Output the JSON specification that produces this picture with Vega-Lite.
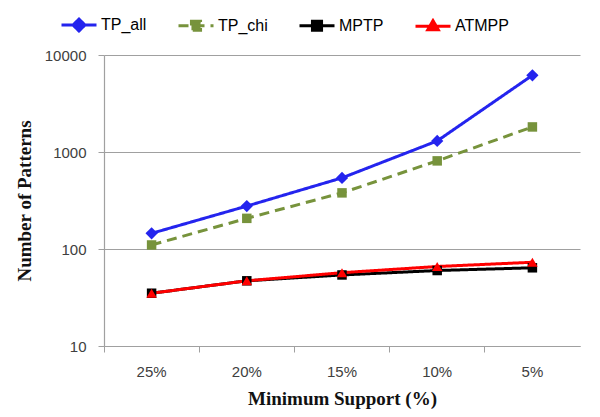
{
  "$schema": "https://vega.github.io/schema/vega-lite/v6.json",
  "width": 476,
  "height": 291,
  "autosize": "none",
  "padding": {"left": 104, "top": 55, "right": 20, "bottom": 71},
  "background": "white",
  "config": {"view": {"stroke": null}, "font": "Liberation Sans"},
  "data": {"values": [
    {"support": "25%", "series": "TP_all", "patterns": 145},
    {"support": "20%", "series": "TP_all", "patterns": 277},
    {"support": "15%", "series": "TP_all", "patterns": 541},
    {"support": "10%", "series": "TP_all", "patterns": 1300},
    {"support": "5%", "series": "TP_all", "patterns": 6180},
    {"support": "25%", "series": "TP_chi", "patterns": 110},
    {"support": "20%", "series": "TP_chi", "patterns": 207},
    {"support": "15%", "series": "TP_chi", "patterns": 379},
    {"support": "10%", "series": "TP_chi", "patterns": 810},
    {"support": "5%", "series": "TP_chi", "patterns": 1813},
    {"support": "25%", "series": "MPTP", "patterns": 35},
    {"support": "20%", "series": "MPTP", "patterns": 47},
    {"support": "15%", "series": "MPTP", "patterns": 54},
    {"support": "10%", "series": "MPTP", "patterns": 60},
    {"support": "5%", "series": "MPTP", "patterns": 64},
    {"support": "25%", "series": "ATMPP", "patterns": 35},
    {"support": "20%", "series": "ATMPP", "patterns": 47},
    {"support": "15%", "series": "ATMPP", "patterns": 57},
    {"support": "10%", "series": "ATMPP", "patterns": 66},
    {"support": "5%", "series": "ATMPP", "patterns": 73}
  ]},
  "encoding": {
    "x": {
      "field": "support", "type": "ordinal",
      "sort": ["25%", "20%", "15%", "10%", "5%"],
      "scale": {"type": "band", "paddingInner": 0, "paddingOuter": 0},
      "axis": {
        "title": "Minimum Support (%)",
        "titleFont": "Liberation Serif", "titleFontSize": 19, "titleFontWeight": "bold", "titleColor": "#111111",
        "titlePadding": 10,
        "labelFont": "Liberation Sans", "labelFontSize": 15, "labelColor": "#404040", "labelAngle": 0,
        "labelPadding": 12,
        "bandPosition": 0, "grid": false,
        "domainColor": "#A0A0A0", "tickColor": "#A0A0A0", "tickSize": 6, "domainWidth": 1.2
      }
    },
    "y": {
      "field": "patterns", "type": "quantitative",
      "scale": {"type": "log", "domain": [10, 10000]},
      "axis": {
        "title": "Number of Patterns",
        "titleFont": "Liberation Serif", "titleFontSize": 19, "titleFontWeight": "bold", "titleColor": "#111111",
        "titlePadding": 10,
        "values": [10, 100, 1000, 10000], "format": "d",
        "labelFont": "Liberation Sans", "labelFontSize": 15, "labelColor": "#404040",
        "labelPadding": 12,
        "grid": true, "gridColor": "#A0A0A0", "gridWidth": 1.2,
        "domainColor": "#A0A0A0", "tickColor": "#A0A0A0", "tickSize": 6, "domainWidth": 1.2
      }
    },
    "color": {
      "field": "series", "type": "nominal",
      "scale": {"domain": ["TP_all", "TP_chi", "MPTP", "ATMPP"], "range": ["#2424EE", "#77933C", "#000000", "#FF0000"]},
      "legend": {
        "orient": "none", "legendX": -44, "legendY": -49,
        "direction": "horizontal", "columns": 4, "title": null,
        "symbolSize": 1225, "symbolStrokeWidth": 3,
        "labelFont": "Liberation Sans", "labelFontSize": 16, "labelColor": "#000000",
        "labelOffset": 3, "columnPadding": 25,
        "encode": {
          "symbols": {
            "update": {
              "shape": {"signal": "datum.value === 'TP_all' ? 'M-1,0H1M0,-0.34L0.34,0L0,0.34L-0.34,0Z' : datum.value === 'ATMPP' ? 'M-1,0H1M0,-0.32L0.3,0.2L-0.3,0.2Z' : 'M-1,0H1M-0.26,-0.26H0.26V0.26H-0.26Z'"},
              "size": {"value": 1225},
              "fill": {"signal": "scale('color', datum.value)"},
              "stroke": {"signal": "scale('color', datum.value)"},
              "strokeDash": {"signal": "datum.value === 'TP_chi' ? [10, 6] : [1, 0]"},
              "opacity": {"value": 1}
            }
          }
        }
      }
    }
  },
  "layer": [
    {
      "mark": {"type": "line", "strokeWidth": 3},
      "encoding": {
        "strokeDash": {
          "field": "series", "type": "nominal",
          "scale": {"domain": ["TP_all", "TP_chi", "MPTP", "ATMPP"], "range": [[1, 0], [10, 6], [1, 0], [1, 0]]},
          "legend": null
        }
      }
    },
    {
      "transform": [{"filter": "datum.series === 'TP_all'"}],
      "mark": {"type": "point", "filled": true, "opacity": 1, "shape": "diamond", "size": 150}
    },
    {
      "transform": [{"filter": "datum.series === 'TP_chi' || datum.series === 'MPTP'"}],
      "mark": {"type": "point", "filled": true, "opacity": 1, "shape": "square", "size": 90}
    },
    {
      "transform": [{"filter": "datum.series === 'ATMPP'"}],
      "mark": {"type": "point", "filled": true, "opacity": 1, "shape": "triangle-up", "size": 110}
    }
  ]
}
